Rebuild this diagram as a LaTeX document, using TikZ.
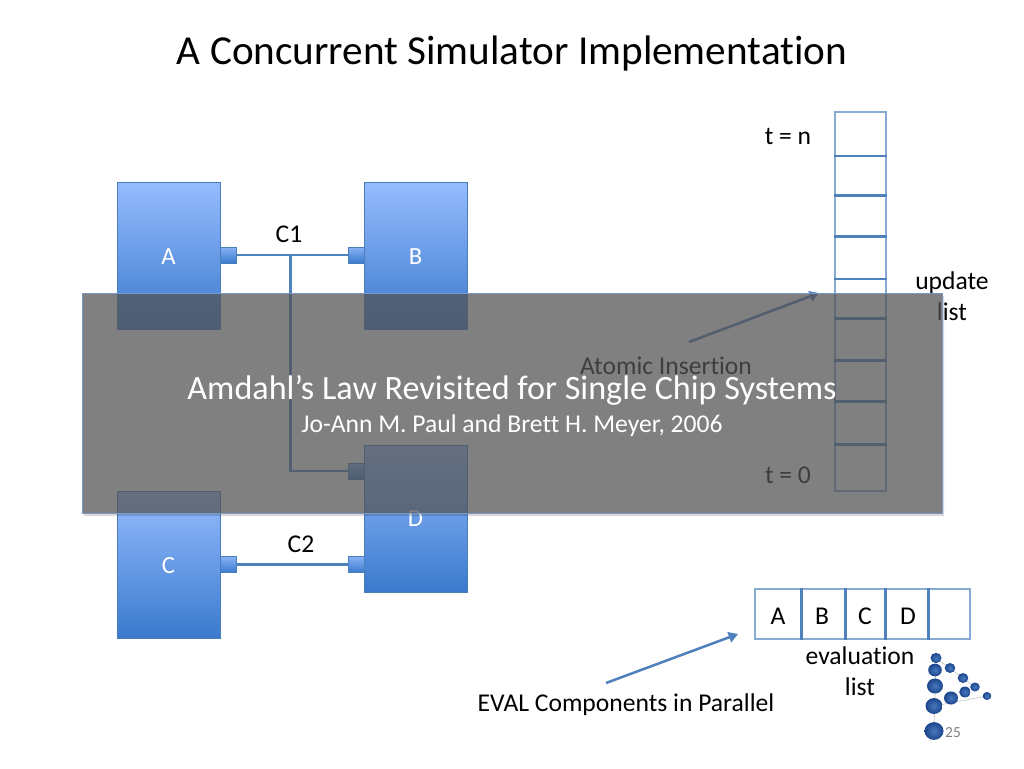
\documentclass[tikz,border=0pt]{standalone}
\usepackage{fontspec}
\setmainfont[Ligatures=NoCommon]{Carlito}
\usetikzlibrary{arrows.meta,shadows,calc}
\definecolor{ln}{RGB}{79,129,189}
\definecolor{bdr}{RGB}{74,126,187}
\definecolor{celln}{RGB}{135,170,210}
\definecolor{topb}{RGB}{150,188,255}
\definecolor{botb}{RGB}{58,122,204}
\definecolor{ovl}{RGB}{84,84,84}
\definecolor{ovle}{RGB}{120,155,195}
\definecolor{balld}{RGB}{28,70,140}
\definecolor{ballm}{RGB}{72,120,190}
\tikzset{
 comp/.style={draw=bdr,line width=.6pt,top color=topb,bottom color=botb,minimum width=77.25pt,minimum height=110.25pt,inner sep=0pt,drop shadow={shadow xshift=.6pt,shadow yshift=-.8pt,opacity=.25}},
 port/.style={draw=bdr,line width=.4pt,top color=topb!85!botb,bottom color=botb,minimum width=12pt,minimum height=12pt,inner sep=0pt,drop shadow={shadow xshift=.4pt,shadow yshift=-.6pt,opacity=.25}},
 wire/.style={draw=ln,line width=1.9pt},
 cell/.style={draw=celln,line width=.9pt,fill=white,inner sep=0pt},
 divd/.style={draw=ln,line width=1.9pt},
 lbl/.style={font=\fontsize{19.2}{19.2}\selectfont,text=black,inner sep=0pt,anchor=center},
 comptxt/.style={font=\fontsize{18.5}{18.5}\selectfont,text=white,inner sep=0pt},
 fat/.style={draw=ln,line width=1.9pt,-{Triangle[length=7pt,width=8pt]}},
 spoke/.style={draw=gray!45,line width=.5pt},
}
\begin{document}
\begin{tikzpicture}[x=.75pt,y=-.75pt]
\useasboundingbox (0,0) rectangle (1024,768);
\fill[white] (0,0) rectangle (1024,768);
\node[font=\fontsize{30.9}{30.9}\selectfont,inner sep=0pt] (title) at (512,54) {A Concurrent Simulator Implementation};
% components
\node[comp] (A) at (168.5,255.5) {};
\node[comp] (B) at (415.5,255.5) {};
\node[comp] (C) at (168.5,564.5) {};
\node[comp] (D) at (415.5,518.5) {};
\node[comptxt] (At) at (168.5,257) {A};
\node[comptxt] (Bt) at (415.5,257) {B};
\node[comptxt] (Ct) at (168.5,566) {C};
\node[comptxt] (Dt) at (415.5,519) {D};
% wires
\node[port] (pa) at (228,255) {};
\node[port] (pb) at (356,255) {};
\node[port] (pc) at (228,564.5) {};
\node[port] (pd) at (356,564.5) {};
\node[port] (pe) at (356,471) {};
\draw[wire] (pa) -- (pb);
\draw[wire] (pc) -- (pd);
\coordinate (j) at (290.5,255);
\draw[wire] (j) |- (pe);
\node[lbl] (c1) at (289,234) {C1};
\node[lbl] (c2) at (301,544) {C2};
% update list
\foreach \n/\a/\b in {u0/112/155.5,u1/155.5/195,u2/195/236,u3/236/278.5,u4/278.5/318,u5/318/360,u6/360/401,u7/401/444,u8/444/491}{
 \node[cell,minimum width=38.25pt,minimum height={(\b-\a)*.75pt}] (\n) at (860.5,{(\a+\b)/2}) {};
}
\foreach \n in {u0,u1,u2,u3,u4,u5,u6,u7}{
 \draw[divd] (\n.south west) -- (\n.south east);
}
\node[lbl] (tn) at (788,136) {t = n};
\node[lbl] (t0) at (788,475) {t = 0};
\node[lbl] (upd) at (952,283) {update};
\node[lbl] (lst) at (952,312) {list};
\node[lbl,text=black] (ai) at (666,366) {Atomic Insertion};
\coordinate (ai1) at (689,342);
\coordinate (ai2) at (819,293);
\draw[fat] (ai1) -- (ai2);
% overlay
\fill[black,opacity=.15] (942,296) -- (944,296) -- (944,516) -- (84,516) -- (84,513) -- (942,513) -- cycle;
\node[draw=ovle,line width=.6pt,fill=ovl,fill opacity=.74,draw opacity=1,minimum width=645pt,minimum height=165pt,inner sep=0pt] (ov) at (512,403) {};
\node[font=\fontsize{25.6}{25.6}\selectfont,text=white,inner sep=0pt] (h1) at (512,390) {Amdahl’s Law Revisited for Single Chip Systems};
\node[font=\fontsize{19.2}{19.2}\selectfont,text=white,inner sep=0pt] (h2) at (512,426) {Jo-Ann M. Paul and Brett H. Meyer, 2006};
% evaluation list
\foreach \n/\a/\b in {e0/755/801,e1/801/845,e2/845/885,e3/885/928,e4/928/970}{
 \node[cell,minimum height=37.5pt,minimum width={(\b-\a)*.75pt}] (\n) at ({(\a+\b)/2},614) {};
}
\foreach \n in {e0,e1,e2,e3}{
 \draw[divd] (\n.north east) -- (\n.south east);
}
\node[lbl] (ea) at (778,616) {A};
\node[lbl] (eb) at (822,616) {B};
\node[lbl] (ec) at (865,616) {C};
\node[lbl] (ed) at (908,616) {D};
\node[lbl] (ev) at (860,656) {evaluation};
\node[lbl] (el) at (860,687) {list};
\node[lbl] (ep) at (626,705) {EVAL Components in Parallel};
\coordinate (ep1) at (606,683);
\coordinate (ep2) at (738,634);
\draw[fat] (ep1) -- (ep2);
% logo
\draw[spoke] (934,731) -- (936,658) (934,706) -- (987,696) (936,658) -- (975,687);
\foreach \x/\y/\r in {934/731/9.5,934/706/8.5,935/686/8,935/670/6.8,936/658/5.5,951/698/7,965/692/5.8,975/687/4.8,987/696/4.3,963/678/5.3,950/668/5.3}{
 \shade[inner color=ballm,outer color=balld] (\x,\y) ellipse ({\r*.75pt} and {\r*.7pt});
}
\node[font=\fontsize{11.5}{11.5}\selectfont,text=gray,inner sep=0pt] (pg) at (953,733) {25};
\end{tikzpicture}
\end{document}
